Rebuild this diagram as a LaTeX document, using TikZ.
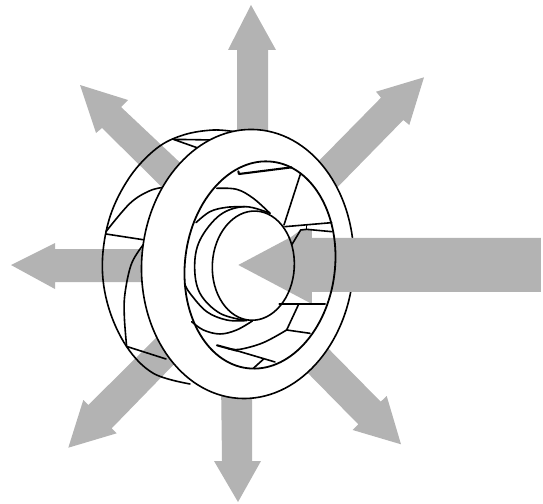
\documentclass[tikz,border=0pt]{standalone}
\definecolor{flow}{HTML}{B3B3B3}
\tikzset{
  flowarrow/.style={fill=flow,draw=none},
  wheel/.style={draw=black,line width=1.6pt,line join=round,line cap=round},
  rimfill/.style={wheel,fill=white},
  thick blade/.style={wheel,line width=2.1pt}
}
\begin{document}
\begin{tikzpicture}[x=1pt,y=-1pt]
\useasboundingbox (0,0) rectangle (543,503);
% radial flow arrows
\fill[flowarrow] (251,5) -- (276,50) -- (268,50) -- (268,150) -- (237,150) -- (237,50) -- (228,50) -- cycle;
\fill[flowarrow] (424,77.3) -- (409.3,125) -- (403.3,120) -- (325,200) -- (305,175) -- (381,97.7) -- (376,91.7) -- cycle;
\fill[flowarrow] (80,85) -- (128,100) -- (121,107) -- (190,172) -- (180,205) -- (102,128) -- (96,133) -- cycle;
\fill[flowarrow] (11,265) -- (55,243) -- (55,249) -- (160,249) -- (160,282) -- (55,282) -- (55,289) -- cycle;
\fill[flowarrow] (68.3,447.7) -- (83.3,400) -- (88.3,405) -- (163,331) -- (182,356) -- (111.7,428.3) -- (116.7,433.3) -- cycle;
\fill[flowarrow] (238,502) -- (214,461) -- (222,461) -- (221,380) -- (252,380) -- (252,461) -- (261,461) -- cycle;
\fill[flowarrow] (401,444.3) -- (352.7,430) -- (358.3,424.3) -- (295,360) -- (315,335) -- (380.7,401.7) -- (386.7,396) -- cycle;
\begin{scope}[shift={(90,120)},x=0.3333pt,y=-0.3333pt]
% back of the wheel
\draw[wheel] plot[smooth,tension=0.6] coordinates {(440,36) (370,30) (280,45) (200,85) (120,170) (60,290) (37,430) (55,560) (110,680) (190,760) (300,792)};
\draw[wheel] (370,60) -- (250,58) -- (335,88);
\draw[wheel] plot[smooth,tension=0.6] coordinates {(48,335) (120,250) (180,212) (228,201)};
\draw[wheel] (48,342) -- (165,360);
\draw[wheel] plot[smooth,tension=0.6] coordinates {(163,370) (125,430) (105,520) (103,590) (110,680)};
\draw[wheel] (112,680) -- (228,717);
% front rim
\draw[rimfill,rotate around={-4:(473,432)}] (473,432) ellipse [x radius=318,y radius=404];
% big inlet arrow
\fill[flowarrow] (445,435) -- (605,350) -- (632,330) -- (666,330) -- (666,354) -- (1353,354) -- (1353,516) -- (666,516) -- (666,552) -- cycle;
% hub and inner blades
\draw[wheel,line width=1.8pt,rotate around={-7:(510,435)}] (510,435) ellipse [x radius=225,y radius=312];
\draw[wheel,rotate around={-3:(490,437)}] (490,437) ellipse [x radius=123,y radius=164];
\draw[wheel] plot[smooth,tension=0.6] coordinates {(540,280) (465,260) (390,285) (330,360) (314,440) (330,520) (390,580) (470,602)};
\draw[wheel] plot[smooth,tension=0.6] coordinates {(318,308) (360,275) (410,262) (465,260)};
\draw[wheel] plot[smooth,tension=0.6] coordinates {(284,492) (300,520) (350,575) (410,600) (465,602)};
\draw[wheel] plot[smooth,tension=0.6] coordinates {(380,205) (440,208) (490,235) (540,280)};
\draw[wheel] plot[smooth,tension=0.6] coordinates {(305,605) (340,630) (390,642) (440,630) (487,603)};
\draw[thick blade] (445,154) -- (447,162) -- (605,142);
\draw[wheel] (632,160) -- (582,315);
\draw[wheel] (585,320) -- (725,308);
\draw[wheel] (605,375) -- (632,330) -- (650,328) -- (725,335);
\draw[wheel] (650,317) -- (650,328);
\draw[thick blade] (568,551) -- (705,551);
\draw[wheel] (625,555) -- (590,630) -- (660,640);
\draw[wheel] plot[smooth,tension=0.6] coordinates {(590,630) (520,668) (450,688) (415,686)};
\draw[thick blade] (381,676) -- (440,692);
\draw[wheel] (440,692) -- (555,726);
\draw[wheel] (520,718) -- (490,745);
\end{scope}
\end{tikzpicture}
\end{document}
